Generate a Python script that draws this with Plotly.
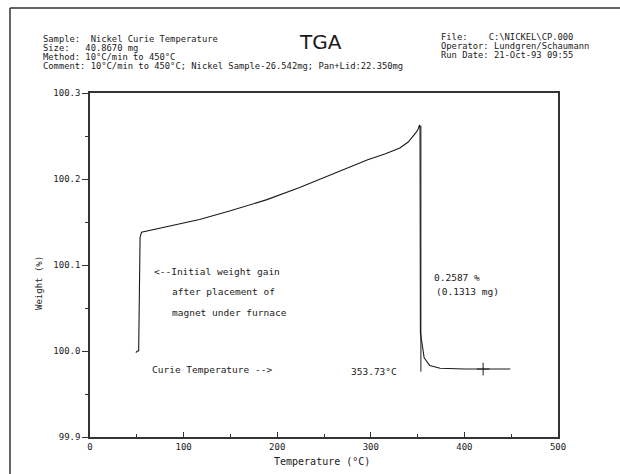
import plotly.graph_objects as go

# ---- data ----
temp = [49, 50.5, 52, 52.5, 53, 53.5, 55, 80, 117, 150, 189, 224, 260, 296, 315, 331, 340,
        345, 349, 351, 352, 352.6, 353, 355, 357, 363, 374, 400, 449]
weight = [99.998, 100.0, 100.0, 100.03, 100.10, 100.132, 100.138, 100.144, 100.153, 100.163,
          100.176, 100.190, 100.206, 100.222, 100.229, 100.236, 100.243, 100.249, 100.255,
          100.259, 100.263, 100.26, 100.021, 100.007, 99.992, 99.983, 99.980, 99.979, 99.979]
step_temp = [353.5, 353.5]
step_weight = [100.262, 99.976]
cross_temp = [420]
cross_weight = [99.979]

x_ticks = [0, 100, 200, 300, 400, 500]
y_ticks = [99.9, 100.0, 100.1, 100.2, 100.3]

header_left = ["Sample:  Nickel Curie Temperature",
               "Size:   40.8670 mg",
               "Method: 10°C/min to 450°C",
               "Comment: 10°C/min to 450°C; Nickel Sample-26.542mg; Pan+Lid:22.350mg"]
header_right = ["File:    C:\\NICKEL\\CP.000",
                "Operator: Lundgren/Schaumann",
                "Run Date: 21-Oct-93 09:55"]

W, H = 620, 474
L, R, T, B = 90, 62, 93, 37
PW, PH = W - L - R, H - T - B


def px(x):
    return (x - L) / PW


def py(y):
    return (H - B - y) / PH


MONO = "DejaVu Sans Mono"
INK = "#1a1a1a"

fig = go.Figure()
fig.add_trace(go.Scatter(x=temp, y=weight, mode="lines",
                         line=dict(color=INK, width=1.1), showlegend=False))
fig.add_trace(go.Scatter(x=step_temp, y=step_weight, mode="lines",
                         line=dict(color=INK, width=1), showlegend=False))
fig.add_trace(go.Scatter(x=cross_temp, y=cross_weight, mode="markers",
                         marker=dict(symbol="cross-thin", size=9, line=dict(color=INK, width=1)),
                         showlegend=False))

ann = []
for i, t in enumerate(header_left):
    ann.append(dict(x=px(41), y=py(39 + i * 9), xref="paper", yref="paper", text=t,
                    showarrow=False, xanchor="left", yanchor="middle",
                    font=dict(family=MONO, size=8.8, color=INK)))
for i, t in enumerate(header_right):
    ann.append(dict(x=px(439), y=py(37 + i * 9), xref="paper", yref="paper", text=t,
                    showarrow=False, xanchor="left", yanchor="middle",
                    font=dict(family=MONO, size=8.8, color=INK)))
ann.append(dict(x=px(320), y=py(42), xref="paper", yref="paper", text="TGA",
                showarrow=False, xanchor="center", yanchor="middle",
                font=dict(family="DejaVu Sans", size=20, color=INK)))

notes = [("<--Initial weight gain", 66, 100.092),
         ("after placement of", 85, 100.069),
         ("magnet under furnace", 85, 100.045),
         ("Curie Temperature -->", 64, 99.978),
         ("353.73°C", 277, 99.976),
         ("0.2587 %", 365, 100.085),
         ("(0.1313 mg)", 368, 100.069)]
for t, x, y in notes:
    ann.append(dict(x=x, y=y, xref="x", yref="y", text=t, showarrow=False,
                    xanchor="left", yanchor="middle",
                    font=dict(family=MONO, size=9.5, color=INK)))

ann.append(dict(x=px(322), y=py(462), xref="paper", yref="paper", text="Temperature (°C)",
                showarrow=False, xanchor="center", yanchor="middle",
                font=dict(family=MONO, size=10, color=INK)))
ann.append(dict(x=px(39), y=py(283), xref="paper", yref="paper", text="Weight (%)",
                showarrow=False, xanchor="center", yanchor="middle", textangle=-90,
                font=dict(family=MONO, size=9, color=INK)))

shapes = [
    dict(type="line", xref="paper", yref="paper", x0=px(10), x1=px(620), y0=py(8), y1=py(8),
         line=dict(color="#333", width=1.5)),
    dict(type="line", xref="paper", yref="paper", x0=px(10), x1=px(10), y0=py(8), y1=py(474),
         line=dict(color="#333", width=1.5)),
]

axis_common = dict(showgrid=False, zeroline=False, showline=True, linecolor="#333",
                   linewidth=1.5, mirror=True, tickcolor="#333",
                   tickfont=dict(family=MONO, size=9, color=INK))

fig.update_layout(
    width=W, height=H, margin=dict(l=L, r=R, t=T, b=B),
    paper_bgcolor="white", plot_bgcolor="white",
    xaxis=dict(range=[0, 500], tickvals=x_ticks, ticktext=[str(v) for v in x_ticks],
               ticks="inside", ticklen=5,
               minor=dict(dtick=50, ticks="inside", ticklen=3, tickcolor="#333"),
               **axis_common),
    yaxis=dict(range=[99.9, 100.3], tickvals=y_ticks, ticktext=[f"{v:.1f}" for v in y_ticks],
               ticks="outside", ticklen=6,
               minor=dict(dtick=0.05, ticks="outside", ticklen=3, tickcolor="#333"),
               **axis_common),
    annotations=ann, shapes=shapes,
)

fig.write_html("out.html", config={"displayModeBar": False},
               post_script="document.body.style.margin='0';document.body.style.overflow='hidden';")
